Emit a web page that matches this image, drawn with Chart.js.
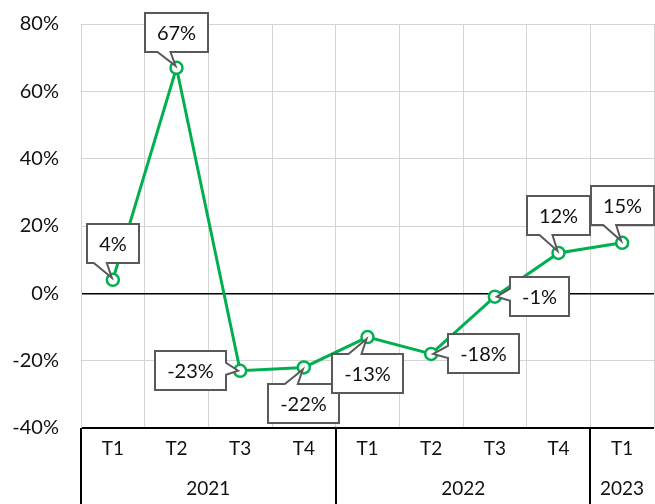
<!DOCTYPE html>
<html>
<head>
<meta charset="utf-8">
<script src="https://cdn.jsdelivr.net/npm/chart.js@4.4.1/dist/chart.umd.min.js"></script>
<style>
  html, body { margin: 0; padding: 0; background: #fff; }
  #wrap { width: 655px; height: 504px; }
</style>
</head>
<body>
<div id="wrap"><canvas id="chart" width="655" height="504"></canvas></div>
<script>
// quarterly change, in %
const quarters = ["T1", "T2", "T3", "T4", "T1", "T2", "T3", "T4", "T1"];
const years = ["2021", "2021", "2021", "2021", "2022", "2022", "2022", "2022", "2023"];
const growth = [4, 67, -23, -22, -13, -18, -1, 12, 15];

// where each callout box sits relative to its point (dx, dy in px)
const calloutOffsets = [[0, -36], [0, -35], [-50, 0], [0, 36], [0, 36], [52, 0], [45, 0], [0, -37], [0, -37]];

const FONT = "Lato, 'Open Sans', sans-serif";
const GREEN = "#00B050";
const GRID = "#d4d4d4";
const TEXT = "#111";

const clamp = (v, lo, hi) => Math.max(lo, Math.min(hi, v));

// year row under the quarter labels, with black separators
const yearRow = {
  id: "yearRow",
  afterDraw(chart) {
    const { ctx, chartArea, scales: { x } } = chart;
    const step = x.getPixelForValue(1) - x.getPixelForValue(0);
    const groups = [];
    years.forEach((y, i) => {
      const last = groups[groups.length - 1];
      if (last && last.year === y) last.end = i;
      else groups.push({ year: y, start: i, end: i });
    });
    ctx.save();
    ctx.strokeStyle = "#000";
    ctx.lineWidth = 2;
    ctx.fillStyle = TEXT;
    ctx.font = `19px ${FONT}`;
    ctx.textAlign = "center";
    ctx.textBaseline = "middle";
    groups.forEach(g => {
      const left = Math.round(x.getPixelForValue(g.start) - step / 2);
      const right = x.getPixelForValue(g.end) + step / 2;
      ctx.beginPath();
      ctx.moveTo(left, chartArea.bottom);
      ctx.lineTo(left, chart.height);
      ctx.stroke();
      ctx.fillText(g.year, (left + right) / 2, 489);
    });
    ctx.restore();
  }
};

// white callout boxes with a pointer to each point
const callouts = {
  id: "callouts",
  afterDatasetsDraw(chart) {
    const { ctx } = chart;
    const meta = chart.getDatasetMeta(0);
    ctx.save();
    ctx.font = `20px ${FONT}`;
    meta.data.forEach((pt, i) => {
      const px = pt.x, py = pt.y;
      const label = growth[i] + "%";
      const w = Math.round(ctx.measureText(label).width) + 24, h = 39;
      const cx = px + calloutOffsets[i][0], cy = py + calloutOffsets[i][1];
      const l = Math.round(cx - w / 2), r = l + w, t = Math.round(cy - h / 2), b = t + h;
      let side;
      if (py > b) side = "bottom";
      else if (py < t) side = "top";
      else if (px < l) side = "left";
      else side = "right";

      ctx.beginPath();
      ctx.moveTo(l, t);
      if (side === "top") {
        const a = clamp(px - 19, l + 4, r - 17);
        ctx.lineTo(a, t); ctx.lineTo(px - 1, py + 2); ctx.lineTo(a + 13, t);
      }
      ctx.lineTo(r, t);
      if (side === "right") {
        const a = clamp(py - 8, t + 4, b - 16);
        ctx.lineTo(r, a); ctx.lineTo(px - 2, py); ctx.lineTo(r, a + 12);
      }
      ctx.lineTo(r, b);
      if (side === "bottom") {
        const a = clamp(px - 6, l + 17, r - 4);
        ctx.lineTo(a, b); ctx.lineTo(px - 1, py - 2); ctx.lineTo(a - 13, b);
      }
      ctx.lineTo(l, b);
      if (side === "left") {
        const a = clamp(py + 4, t + 16, b - 4);
        ctx.lineTo(l, a); ctx.lineTo(px + 2, py); ctx.lineTo(l, a - 12);
      }
      ctx.closePath();
      ctx.fillStyle = "#fff";
      ctx.fill();
      ctx.lineWidth = 2;
      ctx.lineJoin = "miter";
      ctx.strokeStyle = "#595959";
      ctx.stroke();

      ctx.fillStyle = TEXT;
      ctx.textAlign = "center";
      ctx.textBaseline = "middle";
      ctx.fillText(label, (l + r) / 2, (t + b) / 2 + 1);
    });
    ctx.restore();
  }
};

new Chart(document.getElementById("chart"), {
  type: "line",
  data: {
    labels: quarters,
    datasets: [{
      data: growth,
      borderColor: GREEN,
      borderWidth: 3,
      tension: 0,
      pointRadius: 6,
      pointBorderWidth: 2.5,
      pointBackgroundColor: "#fff",
      pointBorderColor: GREEN
    }]
  },
  options: {
    responsive: false,
    animation: false,
    events: [],
    layout: { autoPadding: false, padding: { top: 24, right: 1, left: 0, bottom: 0 } },
    plugins: { legend: { display: false }, tooltip: { enabled: false } },
    scales: {
      x: {
        offset: true,
        grid: { offset: true, color: GRID, lineWidth: 1, drawTicks: false },
        border: { display: false },
        ticks: {
          color: TEXT,
          font: { family: FONT, size: 19 },
          padding: 9,
          maxRotation: 0,
          autoSkip: false
        },
        afterFit(scale) {
          scale.height = 76;
          scale.paddingLeft = 0;
          scale.paddingRight = 0;
        }
      },
      y: {
        min: -40,
        max: 80,
        grid: {
          drawTicks: false,
          color: c => (c.tick.value === 0 || c.tick.value === -40) ? "#000" : GRID,
          lineWidth: c => c.tick.value === 0 ? 1.5 : (c.tick.value === -40 ? 2 : 1)
        },
        border: { color: GRID },
        ticks: {
          stepSize: 20,
          color: TEXT,
          font: { family: FONT, size: 20 },
          padding: 22,
          callback: v => v + "%"
        },
        afterFit(scale) {
          scale.width = 81;
          scale.paddingTop = 0;
          scale.paddingBottom = 0;
        }
      }
    }
  },
  plugins: [yearRow, callouts]
});
</script>
</body>
</html>
